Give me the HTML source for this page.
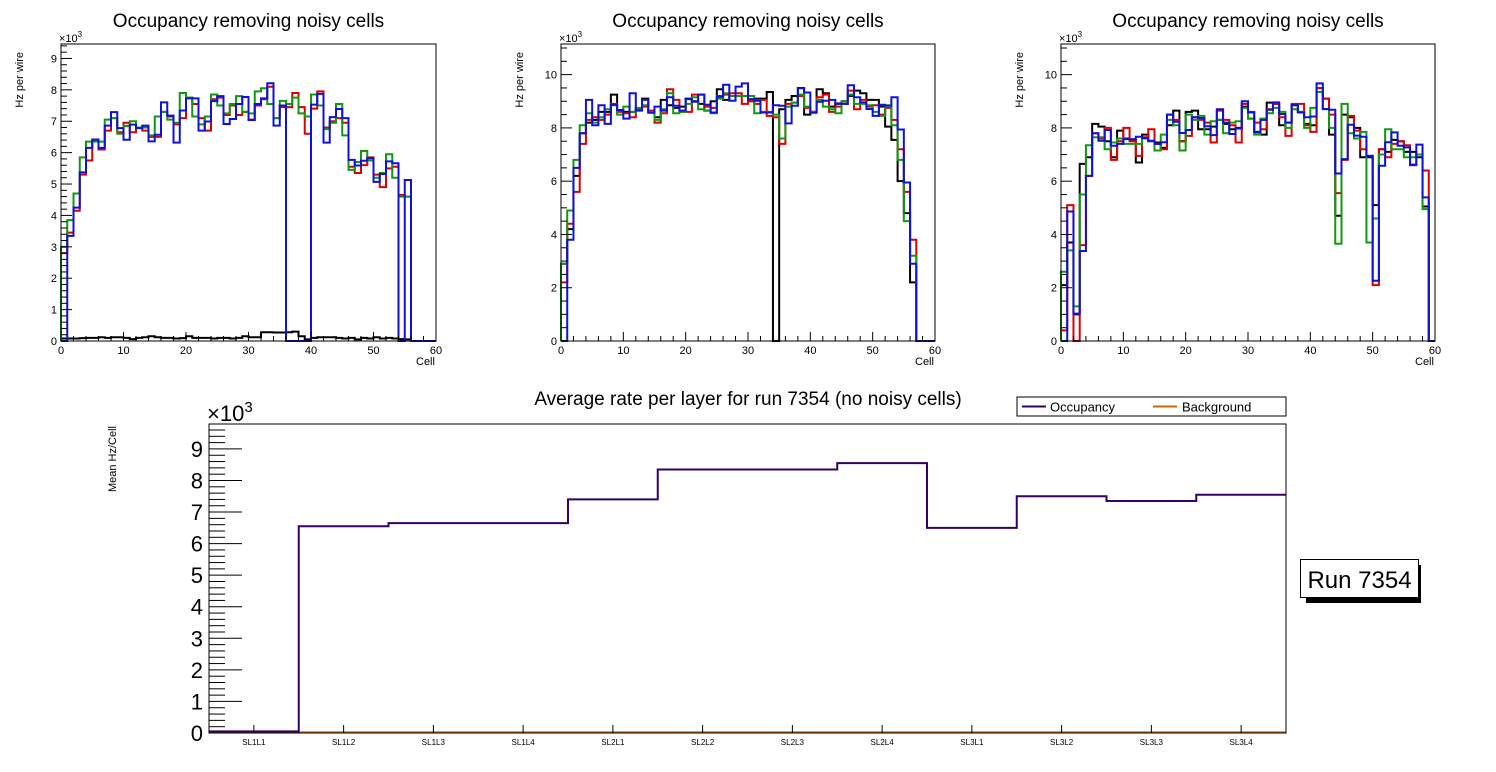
<!DOCTYPE html>
<html><head><meta charset="utf-8"><style>
html,body{margin:0;padding:0;background:#fff;}
svg{display:block;font-family:"Liberation Sans",sans-serif;}
</style></head><body>
<svg id="c" width="1496" height="772" viewBox="0 0 1496 772" xmlns="http://www.w3.org/2000/svg"></svg>
<script>
// ---------- Data ----------
const cells = Array.from({length:60},(_,i)=>i);
const p1Black=[0.08,0.08,0.08,0.09,0.1,0.1,0.12,0.1,0.12,0.12,0.1,0.06,0.1,0.12,0.15,0.12,0.1,0.1,0.08,0.09,0.15,0.1,0.1,0.1,0.08,0.1,0.1,0.08,0.1,0.15,0.12,0.12,0.28,0.28,0.27,0.27,0.28,0.3,0.15,0.05,0.1,0.12,0.12,0.12,0.1,0.08,0.1,0.05,0.1,0.08,0.12,0.08,0.1,0.08,0.06,0.05,0,0,0,0];
const p1Red=[2.8,3.45,4.15,5.3,5.75,6.4,6.1,6.7,7.1,6.65,6.95,6.65,6.8,6.7,6.5,6.5,7.3,7.15,6.9,7.1,7.75,7.55,7.1,6.7,7.7,7.75,7.2,7.5,7.2,7.3,7.05,7.5,7.7,8.1,7.1,7.45,7.45,7.9,7.45,6.6,7.4,7.95,6.8,7.0,7.1,6.95,5.55,5.35,5.6,5.85,5.3,4.9,5.5,5.55,4.65,4.6,0,0,0,0];
const p1Green=[3.0,3.85,4.7,5.85,6.35,6.35,6.35,7.05,7.1,6.6,6.85,7.0,6.8,6.8,6.55,7.15,7.3,7.05,6.95,7.9,7.75,7.15,6.9,7.15,7.85,7.5,7.25,7.55,7.8,7.3,7.25,7.95,8.05,7.55,7.1,7.65,7.55,7.75,7.25,7.15,7.85,7.5,6.75,6.95,7.55,6.55,5.45,5.7,6.05,5.75,5.2,5.35,5.95,5.2,4.6,4.6,0,0,0,0];
const p1Blue=[0,3.35,4.25,5.37,6.15,6.42,6.15,6.86,7.29,6.78,6.41,6.89,6.78,6.86,6.36,6.57,7.6,7.18,6.32,7.34,7.73,7.73,6.7,6.99,7.64,7.8,6.91,7.07,7.55,7.77,7.04,7.55,7.73,8.21,6.86,7.5,0,0,0,0,7.53,7.87,6.32,7.13,7.39,7.1,5.77,5.59,5.74,5.82,5.07,5.32,5.72,5.66,0,5.13,0,0,0,0];

const p2Black=[2.9,4.2,6.2,7.8,8.2,8.3,8.6,8.6,9.25,8.65,8.6,8.6,8.7,9.1,8.6,8.4,9.05,8.85,8.75,8.8,9.1,9.0,8.9,8.65,9.0,9.45,9.05,9.2,9.2,9.2,9.0,9.1,9.1,9.35,0,8.7,9.05,9.2,9.5,8.5,8.6,9.45,9.3,8.8,8.9,9.0,9.2,9.4,9.3,9.05,9.05,8.8,8.05,7.55,6.0,4.8,2.2,0,0,0];
const p2Red=[2.2,4.4,5.6,7.4,8.3,8.4,8.3,8.5,8.9,8.6,8.55,8.4,8.7,8.8,8.65,8.2,8.55,9.45,9.05,8.6,8.6,9.25,9.25,8.8,8.75,9.2,9.25,9.3,9.3,8.9,9.0,8.9,9.05,8.45,8.4,7.4,8.9,8.95,9.2,8.75,8.6,9.15,9.25,8.6,8.8,8.9,9.4,8.7,9.05,8.8,8.85,8.5,8.75,8.3,7.2,5.6,3.8,0,0,0];
const p2Green=[2.9,4.9,6.8,8.1,8.55,8.2,8.4,8.7,8.85,8.5,8.8,8.6,8.75,8.85,8.6,8.3,8.7,9.3,8.55,8.6,8.9,9.15,8.7,8.65,8.55,9.1,9.3,9.2,9.2,9.2,9.2,8.55,8.6,8.6,8.5,7.6,8.8,8.95,9.25,8.8,8.6,9.05,8.8,8.7,8.55,9.0,9.25,8.9,8.9,8.85,8.6,8.45,8.85,8.1,6.8,4.5,3.2,0,0,0];
const p2Blue=[0,3.8,6.5,7.8,9.05,8.1,8.85,8.15,8.87,8.67,8.35,9.3,8.65,9.05,8.57,8.8,8.65,9.15,8.83,8.65,9.08,8.98,9.25,8.87,8.58,9.17,9.62,9.02,9.55,9.67,9.08,9.02,8.58,8.58,8.85,8.83,8.17,8.83,9.49,9.33,8.57,8.98,9.02,9.05,8.92,8.9,9.6,9.15,8.96,8.71,8.45,8.87,8.83,9.15,7.94,5.95,2.9,0,0,0];

const p3Black=[2.1,3.7,1.0,6.65,6.9,8.15,8.05,7.5,6.9,7.9,7.6,7.55,6.7,7.75,7.5,7.45,7.25,8.1,8.65,7.5,8.6,8.65,7.95,7.95,8.05,8.3,8.15,7.95,8.0,8.8,8.35,7.85,7.75,8.95,8.9,8.1,8.2,8.85,8.6,8.15,8.1,9.5,9.1,7.75,4.7,8.5,8.4,8.0,6.9,6.9,5.1,7.2,7.1,7.55,7.5,7.1,7.1,6.9,5.05,0];
const p3Red=[0.4,5.1,0,3.6,6.2,7.8,7.6,8.0,6.8,7.5,8.0,7.5,6.95,7.65,7.95,7.4,7.2,8.5,8.3,7.5,7.7,8.4,8.3,8.2,7.45,8.65,8.3,8.1,7.45,8.9,8.6,8.2,7.95,8.7,8.9,8.4,7.7,8.9,8.9,8.1,7.85,9.5,9.1,8.5,5.55,6.8,8.45,7.9,7.2,6.95,2.1,7.2,6.9,7.4,7.5,7.35,6.6,7.0,6.4,0];
const p3Green=[2.6,3.4,1.3,5.5,7.35,7.65,7.65,7.2,7.45,7.6,7.4,7.4,7.4,7.6,7.5,7.15,7.75,8.3,8.1,7.15,8.5,8.3,8.45,7.75,8.25,8.3,7.8,8.2,8.25,8.75,8.35,7.75,8.35,8.55,8.75,8.6,8.0,8.7,8.6,8.0,8.75,9.35,8.7,8.0,3.65,8.9,7.8,7.6,7.85,3.7,4.6,7.0,7.95,7.2,7.2,6.9,6.9,7.0,4.95,0];
const p3Blue=[0,4.86,1.03,3.38,6.2,7.8,7.52,7.92,7.33,7.4,7.58,7.58,7.67,7.62,7.52,7.4,7.46,8.5,8.23,7.81,7.92,8.4,8.37,8.06,7.73,8.7,8.2,7.77,7.98,9.0,8.58,7.83,8.3,8.68,8.96,8.52,8.2,8.86,8.58,8.4,8.43,9.67,8.71,8.68,6.29,6.83,8.12,7.71,7.67,6.95,2.26,6.58,7.46,7.83,7.33,7.27,6.62,7.37,5.39,0];

const layers=["SL1L1","SL1L2","SL1L3","SL1L4","SL2L1","SL2L2","SL2L3","SL2L4","SL3L1","SL3L2","SL3L3","SL3L4"];
const occupancy=[0.05,6.55,6.65,6.65,7.4,8.35,8.35,8.55,6.5,7.5,7.35,7.55];
const background=[0.02,0.02,0.02,0.02,0.02,0.02,0.02,0.02,0.02,0.02,0.02,0.02];
const p1Ticks=[0,1,2,3,4,5,6,7,8,9];
const p23Ticks=[0,2,4,6,8,10];
const xTicks=[0,10,20,30,40,50,60];
const bTicks=[0,1,2,3,4,5,6,7,8,9];

// ---------- Helpers ----------
const NS="http://www.w3.org/2000/svg";
const svg=document.getElementById('c');
function mk(tag,attrs,parent){const e=document.createElementNS(NS,tag);for(const k in attrs)e.setAttribute(k,attrs[k]);(parent||svg).appendChild(e);return e;}
function txt(s,attrs,parent){const e=mk('text',attrs,parent);e.textContent=s;return e;}

const colors={black:"#000000",red:"#dd0000",green:"#109910",blue:"#1010dd"};

function panel(idx,x0,x1,y0,y1,ymax,yTicks,minorStep,series){
  const g=mk('g',{});
  
  
  const X=v=>x0+(v/60)*(x1-x0);
  const Y=v=>y0-(v/ymax)*(y0-y1);
  const cx=(x0+x1)/2;
  const t=txt("Occupancy removing noisy cells",{x:cx,y:27,'font-size':19,'text-anchor':'middle'},g);
  
  
  for(const [name,vals] of series){
    let d=`M${X(0)},${Y(0)}`;
    vals.forEach((v,i)=>{d+=` L${X(i)},${Y(v)} L${X(i+1)},${Y(v)}`;});
    d+=` L${X(60)},${Y(0)}`;
    const p=mk('path',{d:d,fill:'none',stroke:colors[name],'stroke-width':2},g);
    
    
  }
  const fr=mk('rect',{x:x0,y:y1,width:x1-x0,height:y0-y1,fill:'none',stroke:'#000','stroke-width':1},g);
  
  
  for(let v=0;v<=ymax+1e-6;v+=minorStep){
    const major=yTicks.some(t=>Math.abs(t-v)<1e-6);
    mk('line',{x1:x0,x2:x0+(major?11:6),y1:Y(v),y2:Y(v),stroke:'#000','stroke-width':1},g);
  }
  yTicks.forEach(v=>{
    const l=txt(String(v),{x:x0-4,y:Y(v)+4,'font-size':11,'text-anchor':'end'},g);
    
    
  });
  for(let v=0;v<=60;v+=2){
    const major=v%10===0;
    mk('line',{x1:X(v),x2:X(v),y1:y0,y2:y0-(major?9:5),stroke:'#000','stroke-width':1},g);
  }
  xTicks.forEach(v=>{
    const l=txt(String(v),{x:X(v),y:y0+13,'font-size':11,'text-anchor':'middle'},g);
    
    
  });
  const xt=txt("Cell",{x:x1-20,y:y0+24,'font-size':11},g);
  
  
  const yt=txt("Hz per wire",{x:0,y:0,'font-size':11,'text-anchor':'end',transform:`translate(${x0-38},${y1+8}) rotate(-90)`},g);
  
  
  const ex=txt("×10",{x:x0-2,y:y1-2,'font-size':11},g);
  mk('tspan',{dy:-5,'font-size':8},ex).textContent="3";
  
  
}
panel(1,61,436,341,44,9.46,p1Ticks,0.2,[["black",p1Black],["red",p1Red],["green",p1Green],["blue",p1Blue]]);
panel(2,561,935,341,44,11.15,p23Ticks,0.5,[["black",p2Black],["red",p2Red],["green",p2Green],["blue",p2Blue]]);
panel(3,1061,1435,341,44,11.15,p23Ticks,0.5,[["black",p3Black],["red",p3Red],["green",p3Green],["blue",p3Blue]]);

// ---------- Bottom chart ----------
(function(){
  const x0=209,x1=1286,y0=733,y1=424,ymax=9.79;
  const g=mk('g',{});
  
  
  const bw=(x1-x0)/layers.length;
  const X=i=>x0+i*bw;
  const Y=v=>y0-(v/ymax)*(y0-y1);
  const t=txt("Average rate per layer for run 7354 (no noisy cells)",{x:748,y:405,'font-size':19,'text-anchor':'middle'},g);
  
  
  function step(vals,color,name){
    let d=`M${X(0)},${Y(vals[0])}`;
    vals.forEach((v,i)=>{d+=` L${X(i)},${Y(v)} L${X(i+1)},${Y(v)}`;});
    const p=mk('path',{d:d,fill:'none',stroke:color,'stroke-width':2},g);
    
    
  }
  step(background,"#cc6600","background-line");
  step(occupancy,"#330066","occupancy-line");
  const fr=mk('rect',{x:x0,y:y1,width:x1-x0,height:y0-y1,fill:'none',stroke:'#000','stroke-width':1},g);
  
  
  for(let v=0;v<=ymax+1e-6;v+=0.2){
    const major=Math.abs(v-Math.round(v))<1e-6;
    mk('line',{x1:x0,x2:x0+(major?33:16),y1:Y(v),y2:Y(v),stroke:'#000','stroke-width':1},g);
  }
  bTicks.forEach(v=>{
    const l=txt(String(v),{x:x0-6,y:Y(v)+8,'font-size':22,'text-anchor':'end'},g);
    
    
  });
  layers.forEach((s,i)=>{
    const cx=X(i)+bw/2;
    mk('line',{x1:cx,x2:cx,y1:y0,y2:y0-8,stroke:'#000','stroke-width':1},g);
    const l=txt(s,{x:cx,y:745,'font-size':8,'text-anchor':'middle'},g);
    
    
  });
  const yt=txt("Mean Hz/Cell",{x:0,y:0,'font-size':11,'text-anchor':'end',transform:`translate(116,${y1+2}) rotate(-90)`},g);
  
  
  const ex=txt("×10",{x:x0-2,y:y1-3,'font-size':22},g);
  mk('tspan',{dy:-9,'font-size':15},ex).textContent="3";
  
  
  const lg=mk('g',{});
  
  
  mk('rect',{x:1017,y:397,width:269,height:19,fill:'#fff',stroke:'#000','stroke-width':1},lg);
  mk('line',{x1:1022,x2:1046,y1:406.5,y2:406.5,stroke:'#330066','stroke-width':2},lg);
  const l1=txt("Occupancy",{x:1050,y:411.5,'font-size':13},lg);
  
  
  mk('line',{x1:1153,x2:1177,y1:406.5,y2:406.5,stroke:'#cc6600','stroke-width':2},lg);
  const l2=txt("Background",{x:1182,y:411.5,'font-size':13},lg);
  
  
  const rg=mk('g',{});
  
  
  mk('rect',{x:1306,y:565,width:115,height:38,fill:'#000'},rg);
  mk('rect',{x:1300.5,y:559.5,width:118,height:38,fill:'#fff',stroke:'#000','stroke-width':1},rg);
  txt("Run 7354",{x:1359.5,y:588,'font-size':24,'text-anchor':'middle'},rg);
})();
</script>
</body></html>
